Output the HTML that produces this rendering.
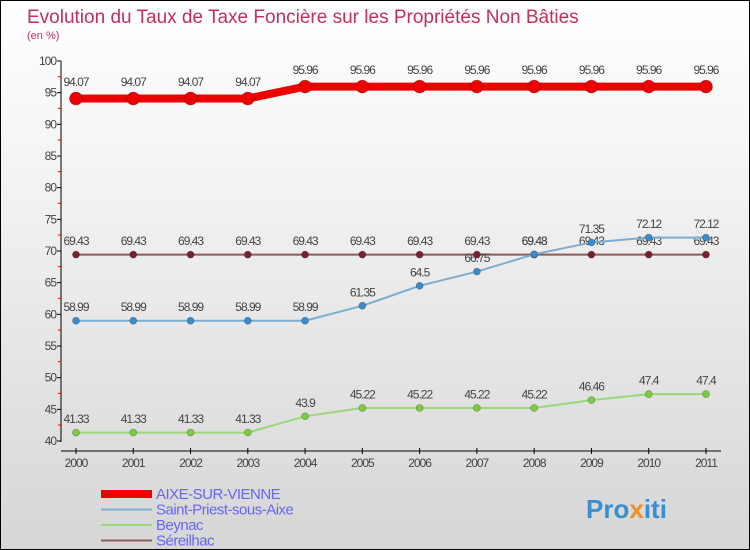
<!DOCTYPE html>
<html><head><meta charset="utf-8"><style>
body{margin:0}
#c{width:750px;height:550px;position:relative;overflow:hidden;box-sizing:border-box;border:1px solid #000;background:linear-gradient(#ffffff,#f4f4f4 30%,#d6d6d6);font-family:"Liberation Sans",sans-serif}
</style></head><body>
<div id="c">
<svg id="s" width="750" height="550" style="position:absolute;left:0;top:0">
<text x="26" y="22" font-size="19" fill="#c0305a">Evolution du Taux de Taxe Foncière sur les Propriétés Non Bâties</text>
<text x="26" y="38" font-size="11" fill="#c0305a">(en %)</text>
<g id="axes"></g><g id="series"></g><g id="legend"></g>
<text x="585" y="517" font-size="26" font-weight="bold" fill="#3a8fd0">Pro<tspan fill="#f09020">x</tspan>iti</text>
</svg>
</div>
<script>
const years=["2000","2001","2002","2003","2004","2005","2006","2007","2008","2009","2010","2011"];
const aixe=[94.07,94.07,94.07,94.07,95.96,95.96,95.96,95.96,95.96,95.96,95.96,95.96];
const stPriest=[58.99,58.99,58.99,58.99,58.99,61.35,64.5,66.75,69.48,71.35,72.12,72.12];
const beynac=[41.33,41.33,41.33,41.33,43.9,45.22,45.22,45.22,45.22,46.46,47.4,47.4];
const sereilhac=[69.43,69.43,69.43,69.43,69.43,69.43,69.43,69.43,69.43,69.43,69.43,69.43];
const yTicks=[40,45,50,55,60,65,70,75,80,85,90,95,100];
const NS="http://www.w3.org/2000/svg";
const xS=i=>75+i*57.27, yS=v=>440-(v-40)*380/60;
function mk(p,t,a){const e=document.createElementNS(NS,t);for(const k in a)e.setAttribute(k,a[k]);p.appendChild(e);return e;}
const ax=document.getElementById('axes');
let e=mk(ax,'line',{x1:60,y1:60,x2:60,y2:441,stroke:'#000'});

e=mk(ax,'line',{x1:60,y1:450,x2:720,y2:450,stroke:'#000'});

yTicks.forEach(v=>{const y=yS(v);
 mk(ax,'line',{x1:56,y1:y,x2:60,y2:y,stroke:'#000'});
 if(v<100)mk(ax,'line',{x1:57,y1:y-16,x2:60,y2:y-16,stroke:'#e00'});
 const t=mk(ax,'text',{x:55,y:y+4,'font-size':12,'text-anchor':'end',fill:'#444','letter-spacing':'-1'});t.textContent=v;
 });
years.forEach((yr,i)=>{const x=xS(i);
 mk(ax,'line',{x1:x,y1:447,x2:x,y2:453,stroke:'#000'});
 const t=mk(ax,'text',{x:x,y:466,'font-size':12,'text-anchor':'middle',fill:'#444','letter-spacing':'-1'});t.textContent=yr;
 });
const sg=document.getElementById('series');
function series(vals,col,w,r,dot,name){
 const g=mk(sg,'g',{});
 
 const l=mk(g,'polyline',{points:vals.map((v,i)=>xS(i)+','+yS(v)).join(' '),fill:'none',stroke:col,'stroke-width':w});
 
 vals.forEach((v,i)=>{const c=mk(g,'circle',{cx:xS(i),cy:yS(v),r:r,fill:dot,stroke:'rgba(0,0,0,0.3)','stroke-width':0.7});
  
  const t=mk(g,'text',{x:xS(i),y:yS(v)-(r+6),'font-size':12,'text-anchor':'middle',fill:'#444','letter-spacing':'-1'});t.textContent=v;
  });
}
series(sereilhac,'#8b5a5a',2,3.5,'#7a2030','sereilhac');
series(beynac,'#9ad87a',2,3.5,'#7ccc40','beynac');
series(stPriest,'#7aaed0',2,3.5,'#3a8ccc','saint-priest');
series(aixe,'#ee0000',8,6.5,'#ee0000','aixe');
const lg=document.getElementById('legend');
[['AIXE-SUR-VIENNE','#ee0000',8],['Saint-Priest-sous-Aixe','#7aaed0',2],['Beynac','#9ad87a',2],['Séreilhac','#8b5a5a',2]].forEach((d,i)=>{
 const y=493+i*15.5;
 const l=mk(lg,'line',{x1:100,y1:y,x2:151,y2:y,stroke:d[1],'stroke-width':d[2]});
 
 const t=mk(lg,'text',{x:155,y:y+5,'font-size':15,fill:'#6666ee','letter-spacing':'-0.5'});t.textContent=d[0];
 });
</script>
</body></html>
